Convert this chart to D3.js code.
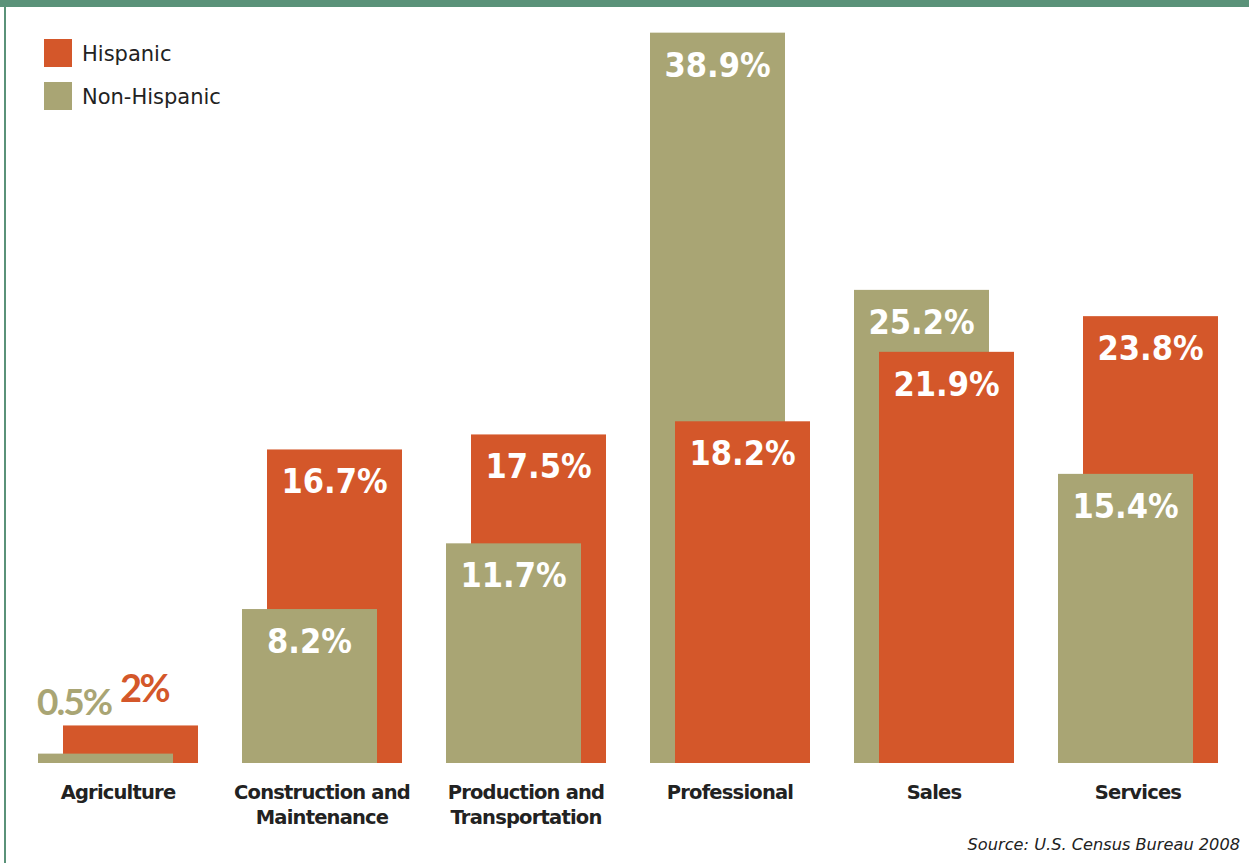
<!DOCTYPE html>
<html>
<head>
<meta charset="utf-8">
<script src="https://cdn.jsdelivr.net/npm/d3@7"></script>
<style>
  html, body { margin: 0; padding: 0; background: #fff; }
  svg { display: block; }
</style>
</head>
<body>
<svg id="chart" width="1249" height="863"></svg>
<script>
// Occupation categories (multi-line labels separated by \n)
const categories = [
  "Agriculture",
  "Construction and\nMaintenance",
  "Production and\nTransportation",
  "Professional",
  "Sales",
  "Services"
];
// Share of employed workers by occupation, percent
const hispanic    = [2, 16.7, 17.5, 18.2, 21.9, 23.8];
const nonHispanic = [0.5, 8.2, 11.7, 38.9, 25.2, 15.4];
const seriesNames = ["Hispanic", "Non-Hispanic"];
const sourceNote  = "Source: U.S. Census Bureau 2008";

const COLORS = { "Hispanic": "#d4572a", "Non-Hispanic": "#a9a574" };
const BORDER = "#5a9279";
const W = 1249, H = 863;
const baseY = 763;
const barW = 135;
const shift = 25;        // Hispanic bar sits this far right of the Non-Hispanic bar
const smallCutoff = 3;   // values below this get their labels above the bars

const svg = d3.select("#chart");

// frame: thick rule on top, thin rule on the left
svg.append("rect").attr("x", 0).attr("y", 0).attr("width", W).attr("height", 7).attr("fill", BORDER);
svg.append("rect").attr("x", 4).attr("y", 0).attr("width", 2).attr("height", H).attr("fill", BORDER);

const x = d3.scaleBand().domain(categories).range([38, 38 + 204 * categories.length]).padding(0);
const y = d3.scaleLinear().domain([0, 40]).range([baseY, 12]);
const fmt = v => (Number.isInteger(v) ? v : v.toFixed(1)) + "%";

const groups = categories.map((c, i) => ({
  cat: c,
  bars: [
    { series: "Non-Hispanic", value: nonHispanic[i], x0: x(c) },
    { series: "Hispanic",     value: hispanic[i],    x0: x(c) + shift }
  ]
}));

const plot = svg.append("g");

groups.forEach(g => {
  const gg = plot.append("g");
  // taller bar behind, shorter bar in front
  const ordered = g.bars.slice().sort((a, b) => b.value - a.value);
  const small = d3.max(g.bars, d => d.value) < smallCutoff;
  ordered.forEach(b => {
    gg.append("rect")
      .attr("x", b.x0)
      .attr("y", y(b.value))
      .attr("width", barW)
      .attr("height", baseY - y(b.value))
      .attr("fill", COLORS[b.series]);
    if (!small) {
      gg.append("text")
        .attr("x", b.x0 + barW / 2)
        .attr("y", y(b.value) + 44)
        .attr("text-anchor", "middle")
        .attr("font-family", "'DejaVu Sans Condensed', 'DejaVu Sans', sans-serif")
        .attr("font-weight", "bold")
        .attr("font-size", 34)
        .attr("fill", "#fff")
        .text(fmt(b.value));
    }
  });
  if (small) {
    // labels stacked above the taller bar, coloured like their bars
    const topY = y(d3.max(g.bars, d => d.value));
    const nh = g.bars[0], hi = g.bars[1];
    gg.append("text")
      .attr("x", nh.x0 - 1)
      .attr("y", topY - 10)
      .attr("font-family", "Lato, sans-serif")
      .attr("font-weight", "bold")
      .attr("font-size", 37)
      .attr("letter-spacing", -2)
      .attr("fill", COLORS[nh.series])
      .text(fmt(nh.value));
    gg.append("text")
      .attr("x", hi.x0 + 57)
      .attr("y", topY - 23)
      .attr("font-family", "Lato, sans-serif")
      .attr("font-weight", "bold")
      .attr("font-size", 38)
      .attr("letter-spacing", -2.5)
      .attr("fill", COLORS[hi.series])
      .text(fmt(hi.value));
  }
  // category label centred under the pair of bars
  const cx = (x(g.cat) + x(g.cat) + shift + barW) / 2;
  const t = gg.append("text")
    .attr("x", cx)
    .attr("y", 799)
    .attr("text-anchor", "middle")
    .attr("font-family", "'DejaVu Sans', Verdana, sans-serif")
    .attr("font-weight", "bold")
    .attr("font-size", 19.5)
    .attr("letter-spacing", -0.8)
    .attr("fill", "#222");
  g.cat.split("\n").forEach((line, k) => {
    t.append("tspan").attr("x", cx).attr("dy", k === 0 ? 0 : 25).text(line);
  });
});

// legend
const legend = svg.append("g");
seriesNames.forEach((s, i) => {
  const ly = 39 + i * 43;
  legend.append("rect").attr("x", 44).attr("y", ly).attr("width", 28).attr("height", 28).attr("fill", COLORS[s]);
  legend.append("text")
    .attr("x", 82).attr("y", ly + 22)
    .attr("font-family", "'DejaVu Sans', Verdana, sans-serif")
    .attr("font-size", 21)
    .attr("fill", "#222")
    .text(s);
});

// source note
svg.append("text")
  .attr("x", 1240).attr("y", 850)
  .attr("text-anchor", "end")
  .attr("font-family", "'DejaVu Sans', Verdana, sans-serif")
  .attr("font-style", "italic")
  .attr("font-size", 16.2)
  .attr("fill", "#222")
  .text(sourceNote);
</script>
</body>
</html>
